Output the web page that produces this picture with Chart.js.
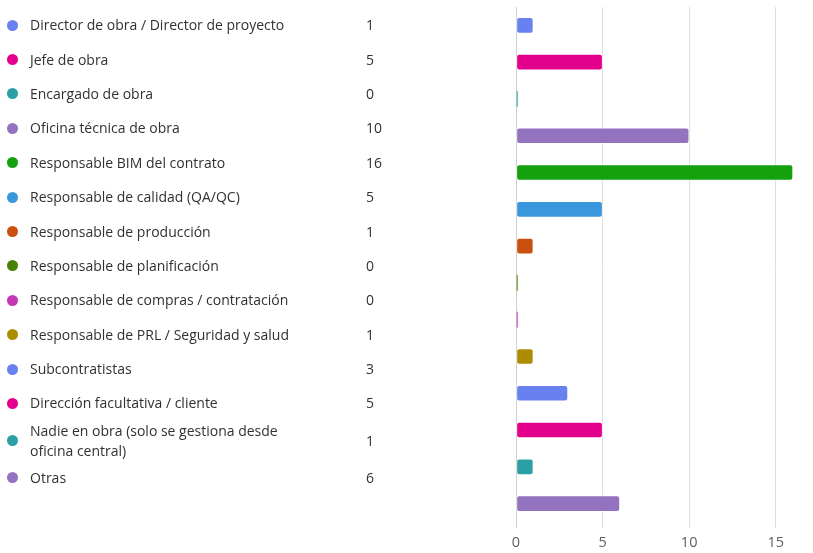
<!DOCTYPE html>
<html>
<head>
<meta charset="utf-8">
<script src="https://cdn.jsdelivr.net/npm/chart.js@4"></script>
<style>
  body { margin: 0; background: #fff; }
  #wrap { position: relative; width: 813px; height: 553px; overflow: hidden; }
  #myChart { position: absolute; left: 0; top: 0; }
  #list {
    position: absolute; left: 0; top: 8px; width: 400px;
    font-family: "Open Sans", "Noto Sans", sans-serif; font-size: 14px;
    color: #323130; line-height: 20px;
  }
  .row { display: flex; align-items: center; min-height: 34.4px; }
  .dot { width: 11px; height: 11px; border-radius: 50%; margin-left: 7px; margin-right: 12px; flex: none; }
  .lbl { width: 336px; flex: none; }
  .val { flex: none; }
</style>
</head>
<body>
<div id="wrap">
  <canvas id="myChart" width="813" height="553"></canvas>
  <div id="list"></div>
</div>
<script>
// categories and answers
const categories = [
  'Director de obra / Director de proyecto',
  'Jefe de obra',
  'Encargado de obra',
  'Oficina técnica de obra',
  'Responsable BIM del contrato',
  'Responsable de calidad (QA/QC)',
  'Responsable de producción',
  'Responsable de planificación',
  'Responsable de compras / contratación',
  'Responsable de PRL / Seguridad y salud',
  'Subcontratistas',
  'Dirección facultativa / cliente',
  ['Nadie en obra (solo se gestiona desde', 'oficina central)'],
  'Otras'
];
const counts = [1, 5, 0, 10, 16, 5, 1, 0, 0, 1, 3, 5, 1, 6];
const colors = [
  '#6880f0', '#e3008c', '#2aa0a4', '#9373c0', '#13a10e', '#3a96dd', '#ca5010',
  '#498205', '#c239b3', '#ae8c00', '#6880f0', '#e3008c', '#2aa0a4', '#9373c0'
];
const xTicks = [0, 5, 10, 15];

// left side list (labels + counts)
const list = document.getElementById('list');
categories.forEach((c, i) => {
  const row = document.createElement('div');
  row.className = 'row';
  const text = Array.isArray(c) ? c.join('<br>') : c;
  row.innerHTML = '<span class="dot" style="background:' + colors[i] + '"></span>' +
    '<span class="lbl">' + text + '</span><span class="val">' + counts[i] + '</span>';
  list.appendChild(row);
});

const ctx = document.getElementById('myChart');
const chart = new Chart(ctx, {
  type: 'bar',
  data: {
    labels: categories,
    datasets: [{
      data: counts,
      backgroundColor: colors,
      // zero answers keep a faint sliver of their own colour
      borderColor: colors.map((c, i) => counts[i] === 0 ? c + '66' : 'rgba(255,255,255,0.45)'),
      borderWidth: 1,
      borderRadius: 3,
      borderSkipped: false,
      barThickness: 16,
      minBarLength: 2
    }]
  },
  options: {
    indexAxis: 'y',
    responsive: false,
    animation: false,
    layout: { padding: { left: 516, right: 20, top: 7, bottom: 1 } },
    plugins: { legend: { display: false }, tooltip: { enabled: false } },
    scales: {
      y: { display: false },
      x: {
        min: 0,
        max: 16,
        afterBuildTicks: (axis) => { axis.ticks = xTicks.map(v => ({ value: v })); },
        afterFit: (axis) => { axis.height = 30; },
        grid: {
          color: (c) => c.tick && c.tick.value === 0 ? '#d2d0ce' : '#e1dfdd',
          tickLength: 6
        },
        border: { display: false },
        ticks: {
          color: '#605e5c',
          padding: 6,
          font: { family: "'Open Sans', 'Noto Sans', sans-serif", size: 14.5 }
        }
      }
    }
  }
});
</script>
</body>
</html>
